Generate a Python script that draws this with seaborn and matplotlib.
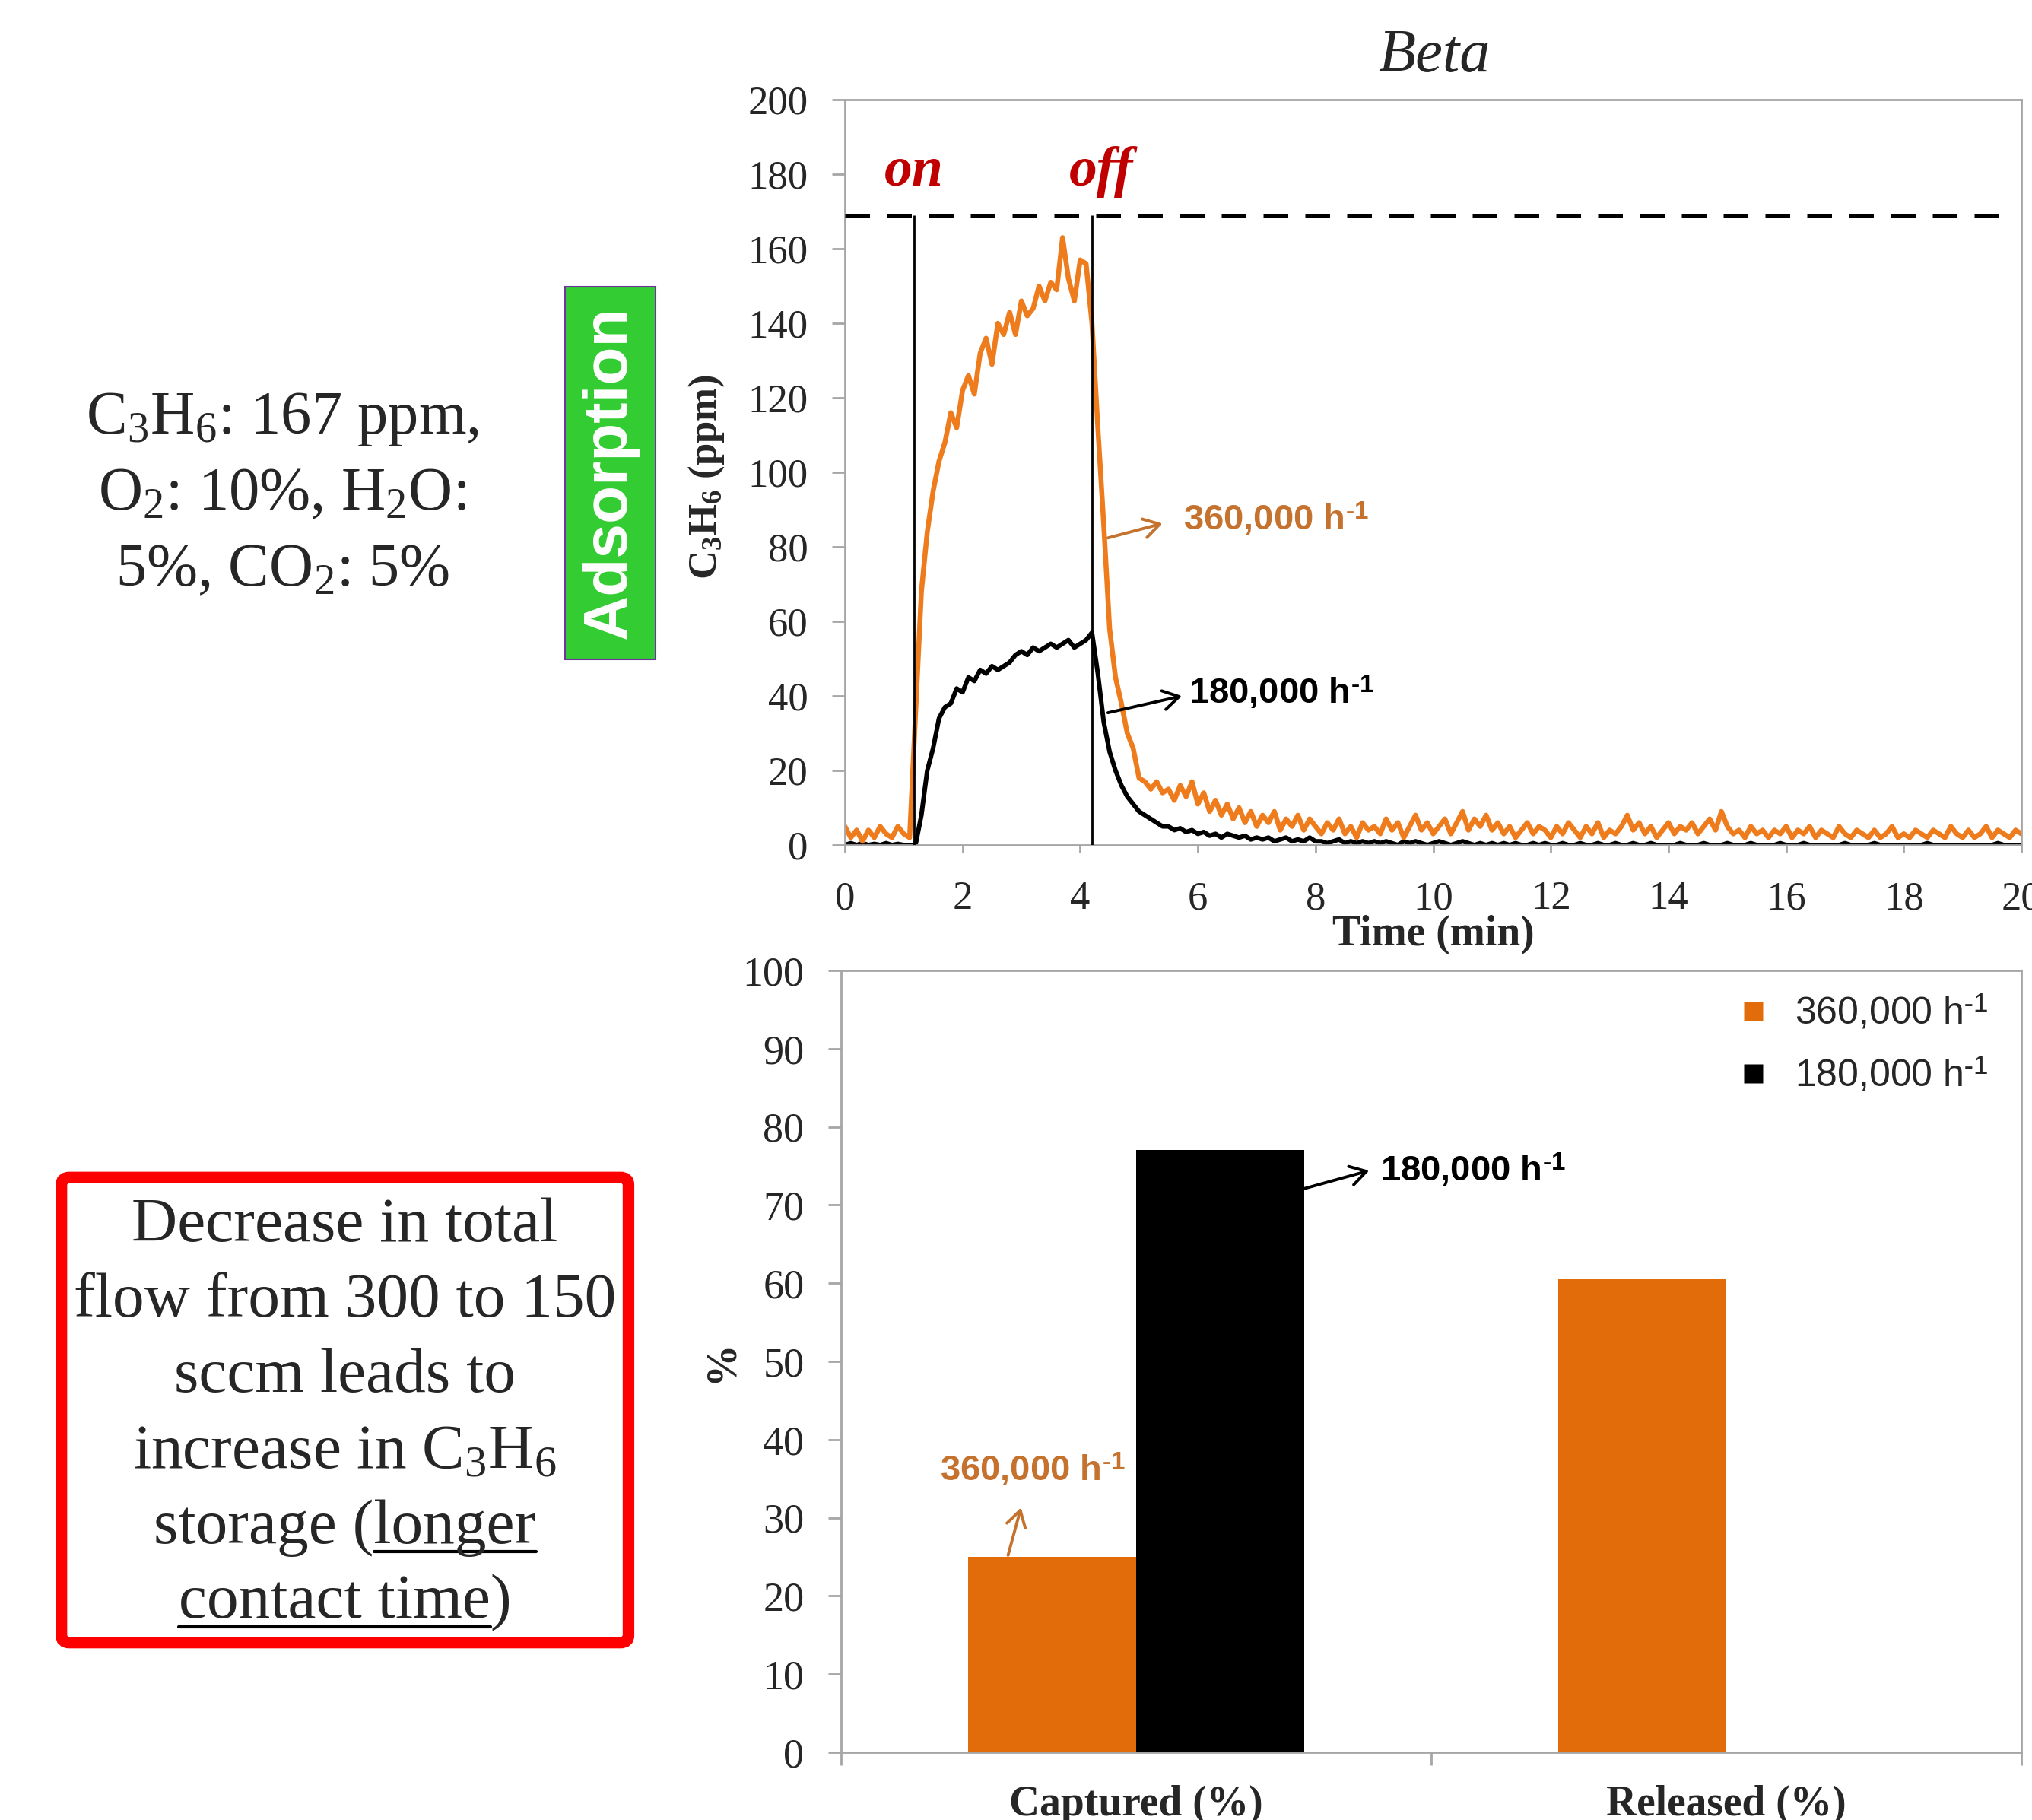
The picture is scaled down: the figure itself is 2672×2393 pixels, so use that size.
import numpy as np
import pandas as pd
import matplotlib
matplotlib.use("Agg")
import matplotlib.pyplot as plt
import seaborn as sns
from matplotlib.lines import Line2D
from matplotlib.patches import FancyBboxPatch, Rectangle

# ---------------- data ----------------
time_min = np.round(np.arange(0, 20.001, 0.1), 1)

ppm_360k = [
    5, 2, 4, 1, 4, 2, 5, 3, 2, 5, 3, 2,
    35, 68, 84, 95, 103, 108, 116, 112, 122, 126,
    121, 132, 136, 129, 140, 137, 143, 137, 146, 142,
    144, 150, 146, 151, 149, 163, 152, 146, 157, 156,
    140, 112, 86, 58, 45, 38, 30, 26, 18, 17,
    15, 17, 14, 15, 12, 16, 13, 17, 11, 14,
    9, 12, 8, 11, 7, 10, 6, 9, 5, 8,
    6, 9, 4, 7, 5, 8, 4, 7, 5,
    3, 6, 4, 7, 3, 5, 2, 6, 4, 5,
    3, 7, 4, 6, 2, 5, 8, 4, 6, 3,
    5, 7, 3, 6, 9, 4, 7, 5, 8, 4,
    6, 3, 5, 2, 4, 6, 3, 5, 4, 2,
    5, 3, 6, 4, 2, 5, 3, 6, 2, 4,
    3, 5, 8, 4, 6, 3, 5, 2, 4, 6,
    3, 5, 4, 6, 3, 5, 7, 4, 9, 5,
    3, 4, 2, 5, 3, 4, 2, 4, 3, 5,
    2, 4, 3, 5, 2, 4, 3, 2, 5, 3,
    2, 4, 3, 2, 4, 2, 3, 5, 2, 3,
    2, 4, 3, 2, 4, 3, 2, 5, 3, 2,
    4, 2, 3, 5, 2, 4, 3, 2, 4, 3,
]

ppm_180k = [
    0, 0.5, 0, 0.5, 0, 0.3, 0, 0.5, 0, 0.3, 0, 0, 0,
    8, 20, 26, 34, 37, 38, 42, 41, 45, 44,
    47, 46, 48, 47, 48, 49, 51, 52, 51, 53,
    52, 53, 54, 53, 54, 55, 53, 54, 55, 57,
    46, 33, 25, 20, 16, 13, 11, 9, 8, 7,
    6, 5, 5, 4, 4.5, 3.5, 4, 3, 3.5, 2.5,
    3, 2, 3, 2.5, 2, 2.5, 1.5, 2,
    1.5, 2, 1, 1.5, 2, 1, 1.5, 1, 2, 1,
    1, 0.5, 1, 1.5, 0.5, 1, 0.5, 1, 0.5, 1,
    0.5, 1, 0.5, 0, 1, 0.5, 1, 0.5, 0, 0.5,
    1, 0.5, 0, 0.5, 1, 0.5, 0, 0.5, 0, 0.5,
    0, 0.5, 0, 0.5, 0, 0, 0.5, 0, 0.5, 0,
    0, 0.5, 0, 0, 0.5, 0, 0, 0.5, 0, 0,
    0.5, 0, 0, 0.5, 0, 0, 0.5, 0, 0, 0,
    0, 0.5, 0, 0, 0, 0.5, 0, 0, 0, 0.5,
    0, 0, 0, 0.5, 0, 0, 0, 0, 0.5, 0,
    0, 0, 0.5, 0, 0, 0, 0, 0, 0, 0.5,
    0, 0, 0, 0, 0.5, 0, 0, 0, 0, 0,
    0, 0, 0, 0.5, 0, 0, 0, 0, 0, 0,
    0, 0, 0, 0, 0, 0.5, 0, 0, 0, 0,
]

inlet_ppm = 169
on_time = 1.17
off_time = 4.2

bar_metrics = ["Captured (%)", "Captured (%)", "Released (%)", "Released (%)"]
bar_series = ["360,000", "180,000", "360,000", "180,000"]
bar_values = [25, 77, 60.5, 0]
series_order = ["360,000", "180,000"]

x_ticks_top = [0, 2, 4, 6, 8, 10, 12, 14, 16, 18, 20]
y_ticks_top = [0, 20, 40, 60, 80, 100, 120, 140, 160, 180, 200]
y_ticks_bot = [0, 10, 20, 30, 40, 50, 60, 70, 80, 90, 100]

# ---------------- style ----------------
sns.set_theme(style="ticks")
plt.rcParams["font.family"] = ["Liberation Serif", "DejaVu Sans"]
plt.rcParams["mathtext.fontset"] = "custom"
plt.rcParams["mathtext.rm"] = "Liberation Serif"
plt.rcParams["mathtext.it"] = "Liberation Serif:italic"
plt.rcParams["mathtext.bf"] = "Liberation Serif:bold"
plt.rcParams["axes.edgecolor"] = "#A6A6A6"
plt.rcParams["axes.linewidth"] = 2

ORANGE_LINE = "#EE7B1C"
ORANGE_BAR = "#E36C0A"
ORANGE_TXT = "#C4722E"
SPINE = "#A6A6A6"
SANS = "Liberation Sans"
SERIF = "Liberation Serif"
SUP = r"$^{\text{-}\mathregular{1}}$"

fig = plt.figure(figsize=(26.72, 23.93), dpi=100)
ax1 = fig.add_axes([0.4158, 0.5357, 0.579, 0.4095])
ax2 = fig.add_axes([0.4139, 0.0372, 0.5808, 0.4296])

# ---------------- top: breakthrough curves ----------------
n = len(time_min)
lines_df = pd.DataFrame({
    "time": np.concatenate([time_min, time_min]),
    "ppm": np.concatenate([ppm_180k, ppm_360k]),
    "series": ["180,000"] * n + ["360,000"] * n,
})
sns.lineplot(data=lines_df[lines_df.series == "180,000"], x="time", y="ppm",
             color="black", linewidth=4.3, estimator=None, legend=False, ax=ax1)
sns.lineplot(data=lines_df[lines_df.series == "360,000"], x="time", y="ppm",
             color=ORANGE_LINE, linewidth=4.7, estimator=None, legend=False, ax=ax1)

ax1.hlines(inlet_ppm, 0, 19.75, colors="black", linewidth=3.6,
           linestyles=(0, (6.5, 4.5)), zorder=5)
ax1.vlines([on_time, off_time], 0, inlet_ppm, colors="black", linewidth=2.0, zorder=5)

ax1.set_xlim(0, 20)
ax1.set_ylim(0, 200)
ax1.set_xticks(x_ticks_top)
ax1.set_yticks(y_ticks_top)
ax1.tick_params(axis="both", labelsize=38, color=SPINE, width=2)
ax1.tick_params(axis="y", length=12, pad=23)
ax1.tick_params(axis="x", length=7, pad=27)
for s in ax1.spines.values():
    s.set_visible(True)
    s.set_color(SPINE)

ax1.set_xlabel("Time (min)", fontsize=40, fontweight="bold", va="top")
ax1.xaxis.set_label_coords(0.5, -0.094)
ax1.set_ylabel(r"C$_{\mathregular{3}}$H$_{\mathregular{6}}$ (ppm)", fontsize=38, fontweight="bold")
ax1.yaxis.set_label_coords(-0.101, 0.494)

ax1.text(0.501, 1.038, "Beta", transform=ax1.transAxes, ha="center", va="baseline",
         fontsize=58, style="italic", family=SERIF)
ax1.text(on_time, 177, "on", ha="center", va="baseline", fontsize=53,
         style="italic", fontweight="bold", color="#C00000", family=SERIF)
ax1.text(4.36, 177, "off", ha="center", va="baseline", fontsize=53,
         style="italic", fontweight="bold", color="#C00000", family=SERIF)

ax1.annotate("", xy=(5.4, 86.3), xytext=(4.47, 82.4),
             arrowprops=dict(arrowstyle="->,head_length=0.5,head_width=0.3",
                             color=ORANGE_TXT, lw=2.8, mutation_scale=30,
                             shrinkA=0, shrinkB=0))
ax1.text(5.75, 84.5, "360,000 h" + SUP, ha="left", va="baseline", fontsize=34,
         fontweight="bold", family=SANS, color=ORANGE_TXT)
ax1.annotate("", xy=(5.73, 40.0), xytext=(4.47, 35.5),
             arrowprops=dict(arrowstyle="->,head_length=0.5,head_width=0.3",
                             color="black", lw=2.8, mutation_scale=30,
                             shrinkA=0, shrinkB=0))
ax1.text(5.84, 37.9, "180,000 h" + SUP, ha="left", va="baseline", fontsize=34,
         fontweight="bold", family=SANS, color="black")

# ---------------- bottom: bar chart ----------------
bar_df = pd.DataFrame({"metric": bar_metrics, "series": bar_series, "percent": bar_values})
sns.barplot(data=bar_df, x="metric", y="percent", hue="series", hue_order=series_order,
            palette=[ORANGE_BAR, "black"], width=0.57, saturation=1, legend=False,
            linewidth=0, ax=ax2)
ax2.set_xlim(-0.5, 1.5)
ax2.set_ylim(0, 100)
ax2.set_yticks(y_ticks_bot)
ax2.set_xticks([0, 1])
ax2.set_xticklabels(["Captured (%)", "Released (%)"], fontsize=40, fontweight="bold")
ax2.set_xticks([-0.5, 0.5, 1.5], minor=True)
ax2.tick_params(axis="x", which="major", length=0, pad=31)
ax2.tick_params(axis="x", which="minor", length=12, width=2, color=SPINE)
ax2.tick_params(axis="y", labelsize=39, length=12, width=2, color=SPINE, pad=23)
for s in ax2.spines.values():
    s.set_visible(True)
    s.set_color(SPINE)
ax2.set_xlabel("")
ax2.set_ylabel("%", fontsize=40, fontweight="bold")
ax2.yaxis.set_label_coords(-0.0845, 0.5)

handles = [Line2D([0], [0], marker="s", ls="none", markerfacecolor=ORANGE_BAR,
                  markeredgecolor="none", markersize=18),
           Line2D([0], [0], marker="s", ls="none", markerfacecolor="black",
                  markeredgecolor="none", markersize=18)]
ax2.legend(handles, ["360,000 h" + SUP, "180,000 h" + SUP], loc="upper right",
           bbox_to_anchor=(0.985, 0.99), frameon=False, handlelength=1.0,
           handletextpad=0.6, labelspacing=0.62, borderaxespad=0,
           prop=dict(family=SANS, size=36))

ax2.annotate("", xy=(0.395, 74.4), xytext=(0.285, 72.1),
             arrowprops=dict(arrowstyle="->,head_length=0.5,head_width=0.3",
                             color="black", lw=2.8, mutation_scale=30,
                             shrinkA=0, shrinkB=0))
ax2.text(0.414, 73.0, "180,000 h" + SUP, ha="left", va="baseline", fontsize=34,
         fontweight="bold", family=SANS, color="black")
ax2.annotate("", xy=(-0.195, 31.3), xytext=(-0.217, 25.2),
             arrowprops=dict(arrowstyle="->,head_length=0.5,head_width=0.3",
                             color=ORANGE_TXT, lw=2.8, mutation_scale=30,
                             shrinkA=0, shrinkB=0))
ax2.text(-0.333, 34.7, "360,000 h" + SUP, ha="left", va="baseline", fontsize=34,
         fontweight="bold", family=SANS, color=ORANGE_TXT)

# ---------------- left-side annotations ----------------
cond_lines = [r"C$_{\mathregular{3}}$H$_{\mathregular{6}}$: 167 ppm,",
              r"O$_{\mathregular{2}}$: 10%, H$_{\mathregular{2}}$O:",
              r"5%, CO$_{\mathregular{2}}$: 5%"]
for yy, s in zip([0.762, 0.720, 0.678], cond_lines):
    fig.text(0.139, yy, s, ha="center", va="baseline", fontsize=58, family=SERIF)

fig.add_artist(Rectangle((0.2781, 0.6377), 0.0445, 0.2048, transform=fig.transFigure,
                         facecolor="#33CC33", edgecolor="#7030A0", linewidth=1.5))
fig.text(0.3003, 0.7405, "Adsorption", rotation=90, ha="center", va="center",
         fontsize=59, fontweight="bold", family=SANS, color="white")

fig.add_artist(FancyBboxPatch((0.0302, 0.0975), 0.2791, 0.2555,
                              boxstyle="round,pad=0,rounding_size=0.004",
                              transform=fig.transFigure, facecolor="white",
                              edgecolor="#FF0000", linewidth=11))
box_lines = ["Decrease in total", "flow from 300 to 150", "sccm leads to",
             r"increase in C$_{\mathregular{3}}$H$_{\mathregular{6}}$",
             "storage (longer", "contact time)"]
box_base = [0.3180, 0.2766, 0.2353, 0.1935, 0.1521, 0.1109]
box_x = 0.1697
BOX_FS = 60
texts = []
for yy, s in zip(box_base, box_lines):
    texts.append(fig.text(box_x, yy, s, ha="center", va="baseline", fontsize=BOX_FS, family=SERIF))

fig.canvas.draw()
r = fig.canvas.get_renderer()
W, H = fig.bbox.width, fig.bbox.height


def text_w(s):
    t = fig.text(0, 0, s, fontsize=BOX_FS, family=SERIF)
    w = t.get_window_extent(r).width
    t.remove()
    return w


def underline(text_obj, prefix, word, yb):
    bb = text_obj.get_window_extent(r)
    x0 = bb.x0 + (text_w(prefix) if prefix else 0)
    x1 = bb.x0 + text_w(prefix + word)
    y = yb - 11 / H
    fig.add_artist(Line2D([x0 / W, x1 / W], [y, y], transform=fig.transFigure,
                          color="black", linewidth=3))


underline(texts[4], "storage (", "longer", box_base[4])
underline(texts[5], "", "contact time", box_base[5])

fig.savefig("out.png", dpi=100)
